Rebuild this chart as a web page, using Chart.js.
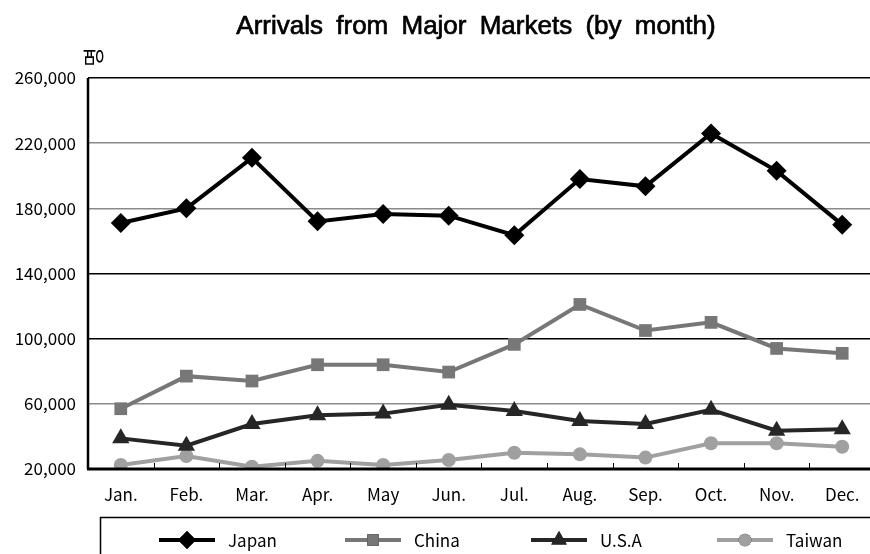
<!DOCTYPE html>
<html>
<head>
<meta charset="utf-8">
<script src="https://cdn.jsdelivr.net/npm/chart.js@4"></script>
<style>
  html, body { margin: 0; padding: 0; background: #fff; overflow: hidden; }
  #wrap { position: relative; width: 885px; height: 554px; }
</style>
</head>
<body>
<div id="wrap"><canvas id="line-chart"></canvas></div>
<script>
const months = ["Jan.", "Feb.", "Mar.", "Apr.", "May", "Jun.", "Jul.", "Aug.", "Sep.", "Oct.", "Nov.", "Dec."];
const japan = [171000, 180000, 211000, 172000, 176500, 175500, 163500, 198000, 193500, 226000, 203000, 170000];
const china = [57000, 77000, 74000, 84000, 84000, 79500, 96500, 121000, 105000, 110000, 94000, 91000];
const usa = [38800, 34300, 47600, 53000, 54000, 59500, 55600, 49500, 47600, 56300, 43500, 44400];
const taiwan = [22500, 28000, 21400, 25000, 22500, 25500, 30000, 29000, 27000, 35800, 35800, 33700];
const yTicks = [20000, 60000, 100000, 140000, 180000, 220000, 260000];
const darkGrid = [260000, 140000, 100000];

const FONT = "'Noto Sans CJK KR', 'Noto Sans', sans-serif";

// title, unit label, inner x ticks and the boxed legend
const extras = {
  id: "extras",
  afterDraw(chart) {
    const ctx = chart.ctx;
    const area = chart.chartArea;
    const x = chart.scales.x;
    ctx.save();

    // title
    ctx.fillStyle = "#000";
    ctx.strokeStyle = "#000";
    ctx.lineWidth = 0.7;
    ctx.font = "26px 'Liberation Sans', Arial, sans-serif";
    ctx.textAlign = "center";
    ctx.textBaseline = "alphabetic";
    if ("wordSpacing" in ctx) ctx.wordSpacing = "6px";
    ctx.fillText("Arrivals from Major Markets (by month)", 476, 34);
    ctx.strokeText("Arrivals from Major Markets (by month)", 476, 34);
    if ("wordSpacing" in ctx) ctx.wordSpacing = "0px";

    // unit
    ctx.save();
    ctx.translate(93, 57);
    ctx.rotate(-Math.PI / 2);
    ctx.font = "21px " + FONT;
    ctx.textAlign = "center";
    ctx.textBaseline = "middle";
    ctx.fillText("명", 0, 0);
    ctx.restore();

    // small tick marks between months, pointing into the plot
    ctx.strokeStyle = "#000";
    ctx.lineWidth = 1;
    const step = x.getPixelForValue(1) - x.getPixelForValue(0);
    for (let i = 1; i < months.length; i++) {
      const px = Math.round(x.getPixelForValue(i) - step / 2) + 0.5;
      ctx.beginPath();
      ctx.moveTo(px, area.bottom);
      ctx.lineTo(px, area.bottom - 6);
      ctx.stroke();
    }

    // axes
    ctx.lineWidth = 2.5;
    ctx.beginPath();
    ctx.moveTo(area.left, area.top);
    ctx.lineTo(area.left, area.bottom);
    ctx.stroke();
    ctx.lineWidth = 3;
    ctx.beginPath();
    ctx.moveTo(area.left - 1, area.bottom);
    ctx.lineTo(area.right + 10, area.bottom);
    ctx.stroke();

    // legend box
    ctx.lineWidth = 1.5;
    ctx.strokeStyle = "#000";
    ctx.strokeRect(100.5, 517.5, 790, 60);
    const startX = [159, 345, 531, 717];
    const ly = 540;
    chart.data.datasets.forEach((ds, i) => {
      const sx = startX[i];
      ctx.strokeStyle = ds.borderColor;
      ctx.lineWidth = 4;
      ctx.beginPath();
      ctx.moveTo(sx, ly);
      ctx.lineTo(sx + 56, ly);
      ctx.stroke();
      Chart.helpers.drawPoint(ctx, {
        pointStyle: ds.pointStyle,
        radius: ds.pointRadius * 0.9,
        rotation: ds.pointRotation || 0,
        borderWidth: 0
      }, sx + 28, ly);
      ctx.fillStyle = ds.pointBackgroundColor;
      ctx.fill();
      ctx.fillStyle = "#000";
      ctx.font = "17px " + FONT;
      ctx.textAlign = "left";
      ctx.textBaseline = "middle";
      ctx.fillText(ds.label, sx + 69, ly + 1);
    });
    ctx.restore();
  }
};

const config = {
  type: "line",
  data: {
    labels: months,
    datasets: [
      {
        label: "Japan",
        data: japan,
        borderColor: "#000000",
        pointBackgroundColor: "#000000",
        pointBorderColor: "#000000",
        pointStyle: "rectRot",
        pointRadius: 10,
        borderWidth: 4,
        pointBorderWidth: 0
      },
      {
        label: "China",
        data: china,
        borderColor: "#777777",
        pointBackgroundColor: "#777777",
        pointBorderColor: "#777777",
        pointStyle: "rect",
        pointRadius: 9,
        borderWidth: 4,
        pointBorderWidth: 0
      },
      {
        label: "U.S.A",
        data: usa,
        borderColor: "#262626",
        pointBackgroundColor: "#262626",
        pointBorderColor: "#262626",
        pointStyle: "triangle",
        pointRadius: 10,
        borderWidth: 4,
        pointBorderWidth: 0
      },
      {
        label: "Taiwan",
        data: taiwan,
        borderColor: "#a0a0a0",
        pointBackgroundColor: "#a0a0a0",
        pointBorderColor: "#a0a0a0",
        pointStyle: "circle",
        pointRadius: 7,
        borderWidth: 4,
        pointBorderWidth: 0
      }
    ]
  },
  options: {
    responsive: false,
    animation: false,
    devicePixelRatio: 1,
    layout: { padding: { top: 78, right: 7, left: 0, bottom: 0 } },
    elements: { line: { tension: 0 } },
    plugins: {
      legend: { display: false },
      title: { display: false },
      tooltip: { enabled: false }
    },
    scales: {
      x: {
        offset: true,
        grid: { display: false },
        border: { display: false },
        ticks: {
          color: "#000",
          font: { family: FONT, size: 17 },
          padding: 7,
          maxRotation: 0
        },
        afterFit(scale) { scale.height = 85; }
      },
      y: {
        min: 20000,
        max: 260000,
        afterBuildTicks(scale) { scale.ticks = yTicks.map(v => ({ value: v })); },
        grid: {
          drawTicks: false,
          lineWidth: 1.5,
          color: ctx => darkGrid.includes(ctx.tick && ctx.tick.value) ? "#000" : "#8a8a8a"
        },
        border: { display: false },
        ticks: {
          color: "#000",
          font: { family: FONT, size: 17 },
          padding: 12,
          callback: v => v.toLocaleString("en-US")
        },
        afterFit(scale) { scale.width = 88; }
      }
    }
  },
  plugins: [extras]
};

const canvas = document.getElementById("line-chart");
canvas.width = 885;
canvas.height = 554;
new Chart(canvas.getContext("2d"), config);
</script>
</body>
</html>
